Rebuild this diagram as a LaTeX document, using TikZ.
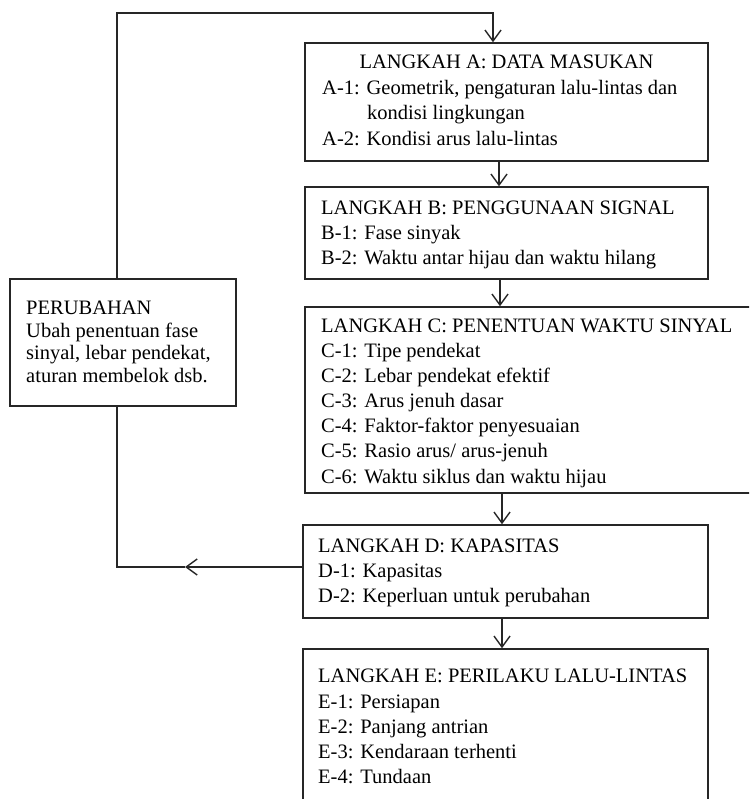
\documentclass[tikz,border=0pt]{standalone}
\usepackage{fontspec}
\setmainfont{Liberation Serif}
\usetikzlibrary{arrows.meta}
\begin{document}
\begin{tikzpicture}[x=1pt,y=-1pt,
  box/.style={draw=black!85, line width=1.5pt, rectangle, inner sep=0pt, fill=none},
  txt/.style={anchor=base west, inner sep=0pt, font=\fontsize{20.5}{25}\selectfont, text=black},
  conn/.style={line width=1.4pt, draw=black!85},
  arr/.style={conn, -{Straight Barb[length=11pt,width=16pt,line width=1.4pt]}}]
\useasboundingbox (0,0) rectangle (749,799);
\clip (0,0) rectangle (749,799);
% boxes
\node[box, minimum width=403pt, minimum height=118pt] (A) at (506.5,102) {};
\node[box, minimum width=403pt, minimum height=92pt] (B) at (506.5,233) {};
\node[box, minimum width=455pt, minimum height=186pt] (C) at (532.5,400) {};
\node[box, minimum width=405pt, minimum height=93pt] (D) at (505.5,571.5) {};
\node[box, minimum width=405pt, minimum height=181pt] (E) at (505.5,739.5) {};
\node[box, minimum width=226pt, minimum height=127pt] (P) at (123,342.5) {};
% texts
\node[txt, anchor=base] (a0) at (506.5,69) {LANGKAH A: DATA MASUKAN};
\node[txt] (a1) at (322,95) {A-1: Geometrik, pengaturan lalu-lintas dan};
\node[txt] (a2) at (367,120) {kondisi lingkungan};
\node[txt] (a3) at (322,146) {A-2: Kondisi arus lalu-lintas};
\node[txt] (b0) at (321,215) {LANGKAH B: PENGGUNAAN SIGNAL};
\node[txt] (b1) at (321,240) {B-1: Fase sinyak};
\node[txt] (b2) at (321,265) {B-2: Waktu antar hijau dan waktu hilang};
\node[txt] (c0) at (321,332) {LANGKAH C: PENENTUAN WAKTU SINYAL};
\node[txt] (c1) at (321,357) {C-1: Tipe pendekat};
\node[txt] (c2) at (321,382) {C-2: Lebar pendekat efektif};
\node[txt] (c3) at (321,407) {C-3: Arus jenuh dasar};
\node[txt] (c4) at (321,432) {C-4: Faktor-faktor penyesuaian};
\node[txt] (c5) at (321,457) {C-5: Rasio arus/ arus-jenuh};
\node[txt] (c6) at (321,483) {C-6: Waktu siklus dan waktu hijau};
\node[txt] (d0) at (318,552) {LANGKAH D: KAPASITAS};
\node[txt] (d1) at (318,577) {D-1: Kapasitas};
\node[txt] (d2) at (318,602) {D-2: Keperluan untuk perubahan};
\node[txt] (e0) at (318,682) {LANGKAH E: PERILAKU LALU-LINTAS};
\node[txt] (e1) at (318,708) {E-1: Persiapan};
\node[txt] (e2) at (318,733) {E-2: Panjang antrian};
\node[txt] (e3) at (318,758) {E-3: Kendaraan terhenti};
\node[txt] (e4) at (318,783) {E-4: Tundaan};
\node[txt] (p0) at (26,314) {PERUBAHAN};
\node[txt] (p1) at (26,337) {Ubah penentuan fase};
\node[txt] (p2) at (26,359) {sinyal, lebar pendekat,};
\node[txt] (p3) at (26,382) {aturan membelok dsb.};
% connector coordinates
\coordinate (xab) at (499,0);
\coordinate (xbc) at (500,0);
\coordinate (xcd) at (502,0);
\coordinate (t1) at (117,13);
\coordinate (t2) at (493,13);
\coordinate (dl) at (0,567);
\coordinate (m) at (185,567);
% connectors
\draw[arr] (A.south -| xab) -- (B.north -| xab);
\draw[arr] (B.south -| xbc) -- (C.north -| xbc);
\draw[arr] (C.south -| xcd) -- (D.north -| xcd);
\draw[arr] (D.south -| xcd) -- (E.north -| xcd);
\draw[arr] (P.north -| t1) -- (t1) -- (t2) -- (A.north -| t2);
\draw[arr] (D.west |- dl) -- (m);
\draw[conn] (m) -- (t1 |- dl) -- (P.south -| t1);
\end{tikzpicture}
\end{document}
